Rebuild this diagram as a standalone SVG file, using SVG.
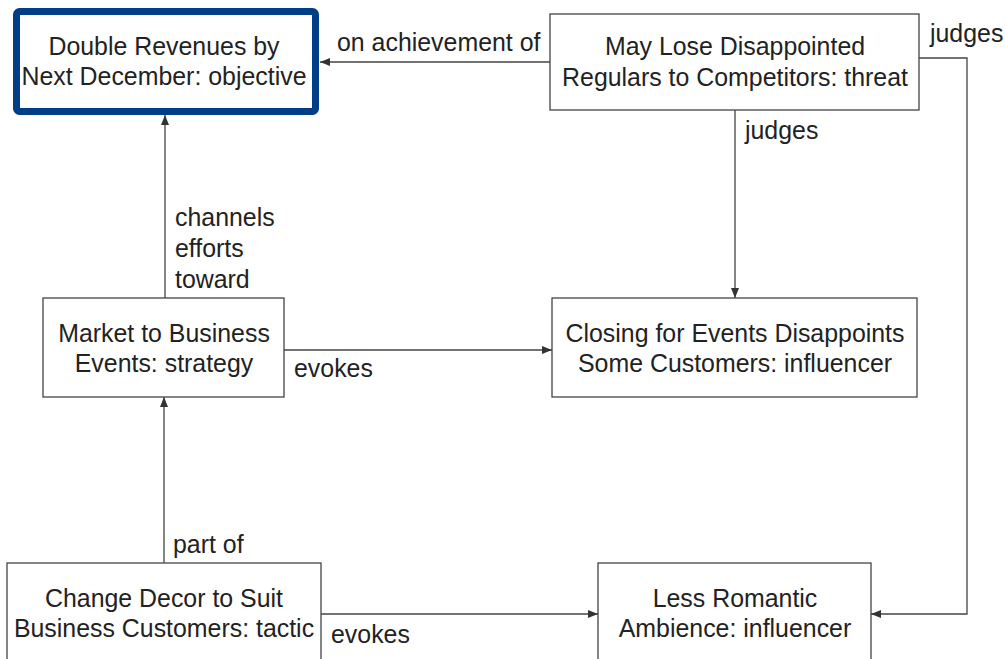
<svg xmlns="http://www.w3.org/2000/svg" width="1005" height="659" viewBox="0 0 1005 659">
<style>
text{font-family:"Liberation Sans",Arial,sans-serif;font-size:24.9px;fill:#222}
.c{text-anchor:middle}
.box{fill:#fff;stroke:#444;stroke-width:1.3}
.ln{fill:none;stroke:#444;stroke-width:1.3}
</style>
<defs>
<marker id="ah" viewBox="0 0 10 8" refX="10" refY="4" markerWidth="10" markerHeight="8" markerUnits="userSpaceOnUse" orient="auto">
<path d="M0,0 L10,4 L0,8 Z" fill="#333"/>
</marker>
</defs>
<rect width="1005" height="659" fill="#fff"/>
<g id="connectors">
<line class="ln" x1="550" y1="62" x2="320" y2="62" marker-end="url(#ah)"/>
<text x="337" y="51">on achievement of</text>
<line class="ln" x1="735" y1="110" x2="735" y2="298" marker-end="url(#ah)"/>
<text x="745" y="139">judges</text>
<polyline class="ln" points="919,58 967,58 967,614 871,614" marker-end="url(#ah)"/>
<text x="930" y="42">judges</text>
<line class="ln" x1="165" y1="298" x2="165" y2="115" marker-end="url(#ah)"/>
<text x="175" y="226">channels</text>
<text x="175" y="257">efforts</text>
<text x="175" y="288">toward</text>
<line class="ln" x1="284" y1="350" x2="552" y2="350" marker-end="url(#ah)"/>
<text x="294" y="377">evokes</text>
<line class="ln" x1="164" y1="563" x2="164" y2="397" marker-end="url(#ah)"/>
<text x="173" y="553">part of</text>
<line class="ln" x1="321" y1="614" x2="598" y2="614" marker-end="url(#ah)"/>
<text x="331" y="643">evokes</text>
</g>
<g id="objective">
<rect x="16.5" y="11.5" width="299" height="100" rx="3" fill="#fff" stroke="#003e85" stroke-width="7"/>
<text class="c" x="164" y="55">Double Revenues by</text>
<text class="c" x="164" y="85">Next December: objective</text>
</g>
<g id="threat">
<rect class="box" x="550" y="14" width="369" height="96"/>
<text class="c" x="735" y="55">May Lose Disappointed</text>
<text class="c" x="735" y="86">Regulars to Competitors: threat</text>
</g>
<g id="strategy">
<rect class="box" x="43" y="298" width="241" height="99"/>
<text class="c" x="164" y="342">Market to Business</text>
<text class="c" x="164" y="372">Events: strategy</text>
</g>
<g id="closing">
<rect class="box" x="552" y="298" width="365" height="99"/>
<text class="c" x="735" y="342">Closing for Events Disappoints</text>
<text class="c" x="735" y="372">Some Customers: influencer</text>
</g>
<g id="tactic">
<rect class="box" x="7" y="563" width="314" height="100"/>
<text class="c" x="164" y="607">Change Decor to Suit</text>
<text class="c" x="164" y="637">Business Customers: tactic</text>
</g>
<g id="ambience">
<rect class="box" x="598" y="563" width="273" height="100"/>
<text class="c" x="735" y="607">Less Romantic</text>
<text class="c" x="735" y="637">Ambience: influencer</text>
</g>
</svg>
